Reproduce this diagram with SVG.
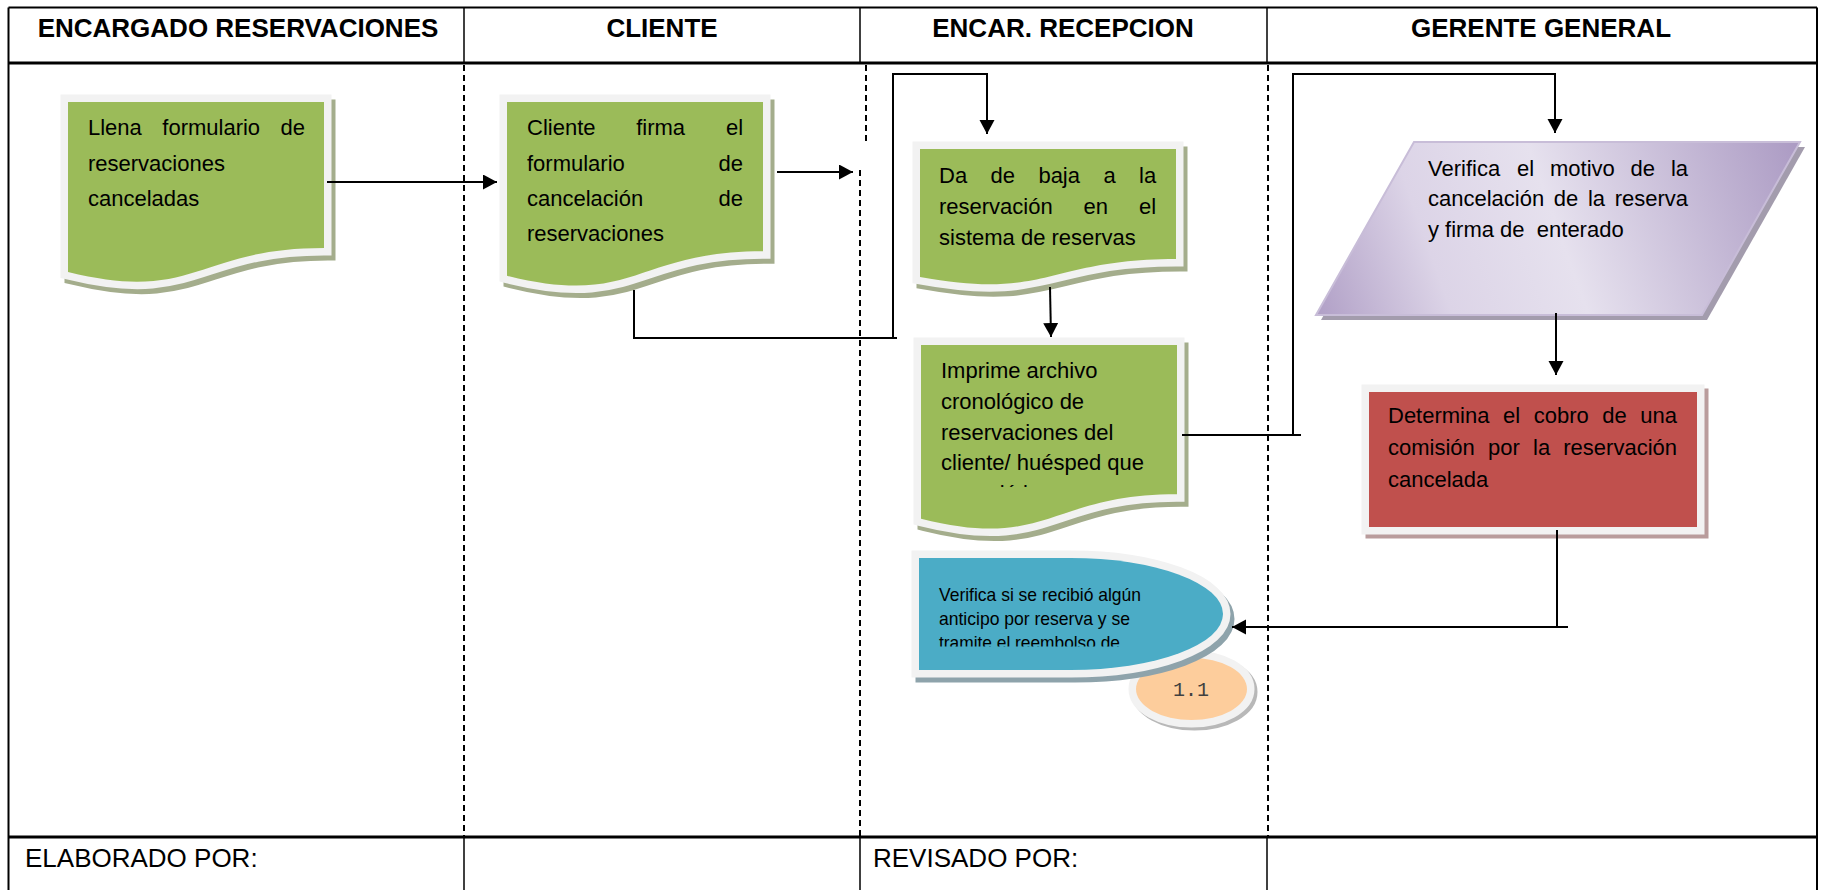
<svg xmlns="http://www.w3.org/2000/svg" width="1825" height="890" viewBox="0 0 1825 890">
  <style>
    .t { font-family: "Liberation Sans", Arial, sans-serif; font-size: 22px; fill: #000; }
    .hd { font-family: "Liberation Sans", Arial, sans-serif; font-size: 26px; font-weight: bold; text-anchor: middle; fill: #000; }
    .ft { font-family: "Liberation Sans", Arial, sans-serif; font-size: 26px; fill: #000; }
    .sm { font-family: "Liberation Sans", Arial, sans-serif; font-size: 19px; fill: #000; }
    .mono { font-family: "Liberation Mono", "Courier New", monospace; font-size: 20px; fill: #404040; text-anchor: middle; }
    .border { stroke: #000; stroke-width: 2; fill: none; }
    .thick { stroke: #000; stroke-width: 3; }
    .sep { stroke: #000; stroke-width: 1.5; }
    .dash { stroke: #000; stroke-width: 2; stroke-dasharray: 6 4; }
    .conn { stroke: #000; stroke-width: 2; fill: none; }
    .frame { stroke: #f2f2f2; stroke-width: 15; paint-order: stroke; stroke-linejoin: miter; }
    .green { fill: #9bbb59; }
    .gshadow { fill: #a4ad8c; stroke: #a4ad8c; stroke-width: 15; }
    .red { fill: #c0504d; }
    .rshadow { fill: #b99c9c; stroke: #b99c9c; stroke-width: 15; }
    .blue { fill: #4bacc6; }
    .bshadow { fill: #8ea3ab; stroke: #8ea3ab; stroke-width: 15; }
    .peach { fill: #fdcd9c; }
    .pshadow { fill: #b8b8b8; stroke: #b8b8b8; stroke-width: 15; }
  </style>
  <defs>
    <marker id="arrow" markerUnits="userSpaceOnUse" markerWidth="16" markerHeight="16" refX="14" refY="7.5" orient="auto">
      <path d="M0,0 L14,7.5 L0,15 Z" fill="#000"/>
    </marker>
    <linearGradient id="lilac" gradientUnits="userSpaceOnUse" x1="1800" y1="142" x2="1316" y2="315">
      <stop offset="0" stop-color="#ab9ac3"/>
      <stop offset="0.5" stop-color="#e6e1ee"/>
      <stop offset="0.75" stop-color="#dcd4e7"/>
      <stop offset="1" stop-color="#b09fc6"/>
    </linearGradient>
    <clipPath id="clipImprime"><rect x="915" y="340" width="270" height="147"/></clipPath>
    <clipPath id="clipVerifica"><rect x="915" y="560" width="300" height="86.5"/></clipPath>
  </defs>

  <!-- table frame -->
  <g id="table">
    <rect x="0" y="0" width="1825" height="890" fill="#fff"/>
    <line class="border" x1="8.5" y1="7.5" x2="1817" y2="7.5"/>
    <line class="border" x1="8.5" y1="7.5" x2="8.5" y2="890"/>
    <line class="border" x1="1817" y1="7.5" x2="1817" y2="890"/>
    <line class="thick" x1="8.5" y1="63" x2="1817" y2="63"/>
    <line class="thick" x1="8.5" y1="837" x2="1817" y2="837"/>
    <!-- header separators -->
    <line class="sep" x1="464" y1="7.5" x2="464" y2="63"/>
    <line class="sep" x1="860" y1="7.5" x2="860" y2="63"/>
    <line class="sep" x1="1267" y1="7.5" x2="1267" y2="63"/>
    <!-- footer separators -->
    <line class="sep" x1="464" y1="837" x2="464" y2="890"/>
    <line class="sep" x1="860" y1="837" x2="860" y2="890"/>
    <line class="sep" x1="1267" y1="837" x2="1267" y2="890"/>
    <!-- lane separators -->
    <line class="dash" x1="464" y1="65" x2="464" y2="836"/>
    <line class="dash" x1="866" y1="65" x2="866" y2="143"/>
    <line class="dash" x1="860" y1="170" x2="860" y2="836"/>
    <line class="dash" x1="1268" y1="65" x2="1268" y2="836"/>
    <!-- header labels -->
    <text class="hd" x="238" y="36.5">ENCARGADO RESERVACIONES</text>
    <text class="hd" x="662" y="36.5">CLIENTE</text>
    <text class="hd" x="1063" y="36.5">ENCAR. RECEPCION</text>
    <text class="hd" x="1541" y="36.5">GERENTE GENERAL</text>
    <!-- footer labels -->
    <text class="ft" x="25" y="867">ELABORADO POR:</text>
    <text class="ft" x="873" y="867">REVISADO POR:</text>
  </g>

  <!-- Llena formulario -->
  <g id="n1">
    <path class="gshadow" transform="translate(4,5)" d="M68,102 H324 V248 C196,248 196,303.5 68,272 Z"/>
    <path class="green frame" d="M68,102 H324 V248 C196,248 196,303.5 68,272 Z"/>
    <text class="t" y="135"><tspan x="88">Llena</tspan><tspan x="162.3">formulario</tspan><tspan x="280.5">de</tspan></text>
    <text class="t" x="88" y="171">reservaciones</text>
    <text class="t" x="88" y="206">canceladas</text>
  </g>

  <!-- Cliente firma -->
  <g id="n2">
    <path class="gshadow" transform="translate(4,5)" d="M507,102 H763 V251.2 C635,251.2 635,307.9 507,275.7 Z"/>
    <path class="green frame" d="M507,102 H763 V251.2 C635,251.2 635,307.9 507,275.7 Z"/>
    <text class="t" y="135"><tspan x="527">Cliente</tspan><tspan x="636.2">firma</tspan><tspan x="725.9">el</tspan></text>
    <text class="t" y="171"><tspan x="527">formulario</tspan><tspan x="718.5">de</tspan></text>
    <text class="t" y="206"><tspan x="527">cancelación</tspan><tspan x="718.5">de</tspan></text>
    <text class="t" x="527" y="241">reservaciones</text>
  </g>

  <!-- Da de baja -->
  <g id="n3">
    <path class="gshadow" transform="translate(4,5)" d="M920,149 H1176 V258.9 C1048,258.9 1048,300.7 920,277 Z"/>
    <path class="green frame" d="M920,149 H1176 V258.9 C1048,258.9 1048,300.7 920,277 Z"/>
    <text class="t" y="183"><tspan x="939">Da</tspan><tspan x="990.5">de</tspan><tspan x="1038.4">baja</tspan><tspan x="1103.4">a</tspan><tspan x="1139">la</tspan></text>
    <text class="t" y="214"><tspan x="939">reservación</tspan><tspan x="1083.5">en</tspan><tspan x="1138.9">el</tspan></text>
    <text class="t" x="939" y="245">sistema de reservas</text>
  </g>

  <!-- Imprime archivo -->
  <g id="n4">
    <path class="gshadow" transform="translate(4,5)" d="M921,345 H1177 V494.2 C1049,494.2 1049,550.9 921,518.7 Z"/>
    <path class="green frame" d="M921,345 H1177 V494.2 C1049,494.2 1049,550.9 921,518.7 Z"/>
    <g clip-path="url(#clipImprime)">
      <text class="t" x="941" y="378">Imprime archivo</text>
      <text class="t" x="941" y="409">cronológico de</text>
      <text class="t" x="941" y="440">reservaciones del</text>
      <text class="t" x="941" y="470">cliente/ huésped que</text>
      <text class="t" x="941" y="501">canceló la reserva</text>
    </g>
  </g>

  <!-- Verifica el motivo -->
  <g id="n5">
    <path fill="#a39cad" transform="translate(5,5)" d="M1414,142 H1800 L1702,315 H1316 Z"/>
    <path fill="url(#lilac)" stroke="#c8bdd8" stroke-width="2" d="M1414,142 H1800 L1702,315 H1316 Z"/>
    <text class="t" y="176"><tspan x="1428">Verifica</tspan><tspan x="1517.1">el</tspan><tspan x="1550">motivo</tspan><tspan x="1630.6">de</tspan><tspan x="1670.9">la</tspan></text>
    <text class="t" y="206"><tspan x="1428">cancelación</tspan><tspan x="1553.8">de</tspan><tspan x="1587.9">la</tspan><tspan x="1614.7">reserva</tspan></text>
    <text class="t" y="237"><tspan x="1428">y firma de</tspan><tspan x="1536.8">enterado</tspan></text>
  </g>

  <!-- Determina el cobro -->
  <g id="n6">
    <rect class="rshadow" x="1373" y="396" width="328" height="135"/>
    <rect class="red frame" x="1369" y="392" width="328" height="135"/>
    <text class="t" y="423"><tspan x="1388">Determina</tspan><tspan x="1503">el</tspan><tspan x="1533.7">cobro</tspan><tspan x="1602.2">de</tspan><tspan x="1640.3">una</tspan></text>
    <text class="t" y="455"><tspan x="1388">comisión</tspan><tspan x="1488">por</tspan><tspan x="1533">la</tspan><tspan x="1563.3">reservación</tspan></text>
    <text class="t" x="1388" y="487">cancelada</text>
  </g>

  <!-- 1.1 -->
  <g id="n8">
    <ellipse class="pshadow" cx="1194.5" cy="692" rx="55.5" ry="31"/>
    <ellipse class="peach frame" cx="1191.5" cy="689" rx="55.5" ry="31"/>
    <text class="mono" x="1191" y="696">1.1</text>
  </g>

  <!-- Verifica si se recibió -->
  <g id="n7">
    <path class="bshadow" transform="translate(4,5)" d="M919,558 H1071 A152,56 0 0 1 1071,670 H919 Z"/>
    <path class="blue frame" d="M919,558 H1071 A152,56 0 0 1 1071,670 H919 Z"/>
    <g clip-path="url(#clipVerifica)">
      <text class="sm" x="939" y="601" textLength="202" lengthAdjust="spacingAndGlyphs">Verifica si se recibió algún</text>
      <text class="sm" x="939" y="625" textLength="191" lengthAdjust="spacingAndGlyphs">anticipo por reserva y se</text>
      <text class="sm" x="939" y="649" textLength="181" lengthAdjust="spacingAndGlyphs">tramite el reembolso de</text>
    </g>
  </g>

  <!-- connectors -->
  <g id="connectors">
    <line class="conn" x1="327" y1="182" x2="497" y2="182" marker-end="url(#arrow)"/>
    <line class="conn" x1="777" y1="172" x2="853" y2="172" marker-end="url(#arrow)"/>
    <path class="conn" d="M634,290 V338 H897"/>
    <path class="conn" d="M893,338 V74 H987 V134" marker-end="url(#arrow)"/>
    <line class="conn" x1="1050" y1="287" x2="1051" y2="337" marker-end="url(#arrow)"/>
    <path class="conn" d="M1182,435 H1301"/>
    <path class="conn" d="M1293,435 V74 H1555 V133" marker-end="url(#arrow)"/>
    <line class="conn" x1="1556" y1="313" x2="1556" y2="375" marker-end="url(#arrow)"/>
    <path class="conn" d="M1557,530 V627"/>
    <line class="conn" x1="1568" y1="627" x2="1232" y2="627" marker-end="url(#arrow)"/>
  </g>
</svg>
